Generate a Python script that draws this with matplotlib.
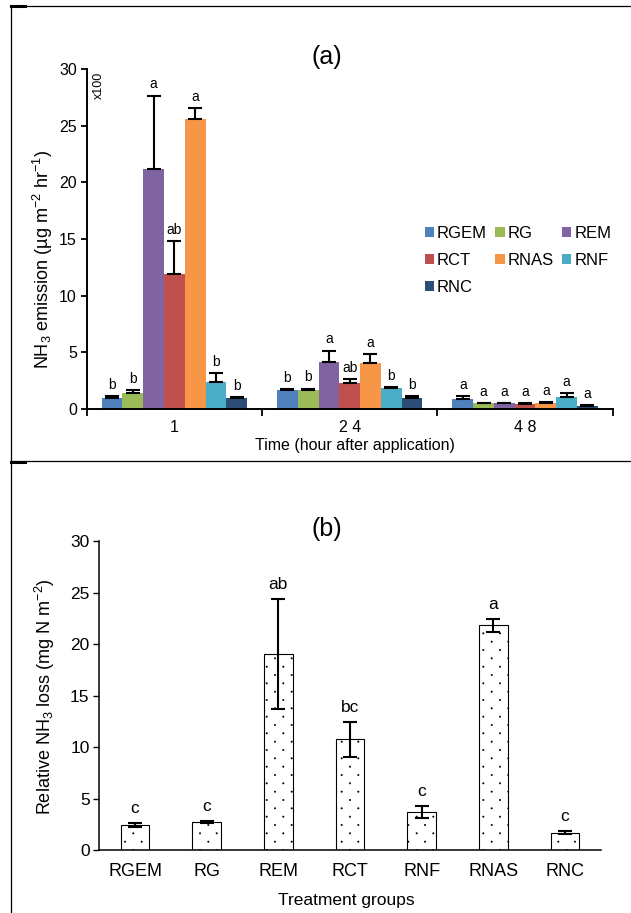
import matplotlib
matplotlib.use('Agg')
import matplotlib.pyplot as plt
import matplotlib.hatch as mhatch
from matplotlib.patches import Patch
from matplotlib.lines import Line2D
from matplotlib.path import Path
import numpy as np

plt.rcParams['font.family'] = ['Liberation Sans', 'DejaVu Sans']
plt.rcParams['mathtext.default'] = 'regular'
plt.rcParams['hatch.color'] = 'black'
plt.rcParams['hatch.linewidth'] = 0.4


class StaggeredDots(mhatch.Shapes):
    """'.' hatch: tiny dots, rows twice as close as the dots within a row."""
    filled = True
    size = 0.7

    def __init__(self, hatch, density):
        self.n_cols = hatch.count('.') * density
        self.n_rows = 2 * self.n_cols
        circle = Path.unit_circle()
        self.shape_vertices = circle.vertices
        self.shape_codes = circle.codes
        self.num_shapes = sum(len(self._cols(r)) for r in range(self.n_rows + 1)) if self.n_cols else 0
        self.num_vertices = self.num_shapes * len(self.shape_vertices)

    def _cols(self, row):
        step = 1.0 / self.n_cols
        if row % 2 == 0:
            return np.linspace(0, 1, self.n_cols + 1)
        return np.linspace(step / 2, 1 - step / 2, self.n_cols)

    def set_vertices_and_codes(self, vertices, codes):
        shape = self.shape_vertices * self.size / 100.0
        v_parts, c_parts = [], []
        for row in range(self.n_rows + 1):
            for col in self._cols(row):
                v_parts.append(shape + [col, row / self.n_rows])
                c_parts.append(self.shape_codes)
        np.concatenate(v_parts, out=vertices)
        np.concatenate(c_parts, out=codes)


mhatch._hatch_types = [StaggeredDots if t is mhatch.SmallFilledCircles else t
                       for t in mhatch._hatch_types]

# (a) NH3 emission rate (x100) per sampling time
times = ['1', '2 4', '4 8']
treatments = ['RGEM', 'RG', 'REM', 'RCT', 'RNAS', 'RNF', 'RNC']
colors = ['#4F81BD', '#9BBB59', '#8064A2', '#C0504D', '#F79646', '#4BACC6', '#2C4D75']
emission = {
    'RGEM': [0.93, 1.65, 0.85],
    'RG':   [1.44, 1.65, 0.50],
    'REM':  [21.18, 4.18, 0.50],
    'RCT':  [11.91, 2.32, 0.47],
    'RNAS': [25.59, 4.06, 0.53],
    'RNF':  [2.35, 1.88, 1.03],
    'RNC':  [0.93, 0.94, 0.26],
}
emission_err = {
    'RGEM': [0.20, 0.08, 0.30],
    'RG':   [0.20, 0.15, 0.05],
    'REM':  [6.47, 0.97, 0.05],
    'RCT':  [2.88, 0.30, 0.08],
    'RNAS': [0.94, 0.76, 0.06],
    'RNF':  [0.80, 0.08, 0.40],
    'RNC':  [0.10, 0.20, 0.05],
}
emission_letters = {
    'RGEM': ['b', 'b', 'a'],
    'RG':   ['b', 'b', 'a'],
    'REM':  ['a', 'a', 'a'],
    'RCT':  ['ab', 'ab', 'a'],
    'RNAS': ['a', 'a', 'a'],
    'RNF':  ['b', 'b', 'a'],
    'RNC':  ['b', 'b', 'a'],
}

# (b) cumulative relative NH3 loss
groups = ['RGEM', 'RG', 'REM', 'RCT', 'RNF', 'RNAS', 'RNC']
loss = [2.43, 2.75, 19.0, 10.74, 3.72, 21.8, 1.68]
loss_err = [0.23, 0.10, 5.34, 1.68, 0.58, 0.63, 0.15]
loss_letters = ['c', 'c', 'ab', 'bc', 'c', 'a', 'c']

W, H = 631, 913
fig = plt.figure(figsize=(W / 100, H / 100), dpi=100)


def px_box(x0, y0, x1, y1):
    return [x0 / W, 1 - y1 / H, (x1 - x0) / W, (y1 - y0) / H]


def frame_line(xs, ys, lw=0.9):
    fig.add_artist(Line2D([x / W for x in xs], [1 - y / H for y in ys],
                          transform=fig.transFigure, color='black', lw=lw))


# panel frames
frame_line([11, W], [6, 6])
frame_line([11, W], [461.5, 461.5])
frame_line([11, 11], [6, H])
frame_line([11, 25], [6.5, 6.5], lw=2.2)
frame_line([11, 25], [462, 462], lw=2.2)

# ---------- panel (a) ----------
ax1 = fig.add_axes(px_box(86.7, 69, 612.7, 409))
x = np.arange(len(times))
w = 0.1184
for i, name in enumerate(treatments):
    pos = x + (i - 3) * w
    vals = np.array(emission[name])
    err = np.array(emission_err[name])
    ax1.bar(pos, vals, w, color=colors[i], edgecolor='none', label=name, zorder=2)
    ax1.errorbar(pos, vals, yerr=[np.zeros_like(err), err], fmt='none', ecolor='black',
                 elinewidth=1.5, capsize=5, capthick=1.5, zorder=3)
    for p, v, e, t in zip(pos, vals, err, emission_letters[name]):
        ax1.annotate(t, (p, v + e), xytext=(0, 3), textcoords='offset points',
                     ha='center', va='bottom', fontsize=10)

ax1.set_xlim(-0.5, 2.5)
ax1.set_ylim(0, 30)
ax1.set_yticks(range(0, 31, 5))
ax1.set_xticks(x)
ax1.set_xticklabels(times)
ax1.set_xticks([-0.5, 0.5, 1.5, 2.5], minor=True)
ax1.tick_params(axis='x', which='major', length=0, pad=8, labelsize=11.5)
ax1.tick_params(axis='x', which='minor', length=5, width=1.3, direction='out')
ax1.tick_params(axis='y', length=4, width=1.3, direction='out', labelsize=11.5, pad=3)
for s in ['top', 'right']:
    ax1.spines[s].set_visible(False)
for s in ['left', 'bottom']:
    ax1.spines[s].set_linewidth(1.4)

ax1.set_ylabel('NH$_3$ emission (µg m$^{-2}$ hr$^{-1}$)', fontsize=13)
ax1.yaxis.label.set_va('center')
ax1.yaxis.set_label_coords(-0.083, 0.441)
ax1.set_xlabel('Time (hour after application)', fontsize=11.5)
ax1.xaxis.label.set_va('center')
ax1.xaxis.set_label_coords(0.51, -0.106)
ax1.text(0.023, 0.953, 'x100', transform=ax1.transAxes, rotation=90,
         ha='center', va='center', fontsize=9)
ax1.set_title('(a)', fontsize=18, pad=0)
ax1.title.set_position((0.457, 1.0))
ax1.title.set_va('center')
ax1.title.set_y(1.0 + 28 / 340)

handles = [Patch(facecolor=c, edgecolor='none') for c in colors]
order = [0, 3, 6, 1, 4, 2, 5]
leg = ax1.legend([handles[k] for k in order], [treatments[k] for k in order],
                 ncol=3, loc='upper left',
                 bbox_to_anchor=((424.5 - 86.7) / 526, (409 - 226) / 340),
                 frameon=False, fontsize=12, handlelength=0.55, handleheight=0.55,
                 handletextpad=0.2, columnspacing=0.5, labelspacing=0.72,
                 borderpad=0, borderaxespad=0)

# ---------- panel (b) ----------
ax2 = fig.add_axes(px_box(99.3, 541, 600.7, 850))
xb = np.arange(len(groups))
ax2.bar(xb, loss, 0.4, color='white', edgecolor='black', linewidth=0.8,
        hatch='.', zorder=2)
ax2.errorbar(xb, loss, yerr=loss_err, fmt='none', ecolor='black', elinewidth=1.5,
             capsize=5, capthick=1.5, zorder=3)
for p, v, e, t in zip(xb, loss, loss_err, loss_letters):
    ax2.annotate(t, (p, v + e), xytext=(0, 5), textcoords='offset points',
                 ha='center', va='bottom', fontsize=12.5)

ax2.set_xlim(-0.5, len(groups) - 0.5)
ax2.set_ylim(0, 30)
ax2.set_yticks(range(0, 31, 5))
ax2.set_xticks(xb)
ax2.set_xticklabels(groups)
ax2.tick_params(axis='x', length=0, pad=9, labelsize=13)
ax2.tick_params(axis='y', length=4, width=1.0, direction='out', labelsize=12.5, pad=3)
for s in ['top', 'right']:
    ax2.spines[s].set_visible(False)
for s in ['left', 'bottom']:
    ax2.spines[s].set_linewidth(1.1)

ax2.set_ylabel('Relative NH$_3$ loss (mg N m$^{-2}$)', fontsize=13)
ax2.yaxis.label.set_va('center')
ax2.yaxis.set_label_coords(-0.108, 0.495)
ax2.set_xlabel('Treatment groups', fontsize=12.5)
ax2.xaxis.label.set_va('center')
ax2.xaxis.set_label_coords(0.492, -0.162)
ax2.set_title('(b)', fontsize=18, pad=0)
ax2.title.set_position((0.454, 1.0))
ax2.title.set_va('center')
ax2.title.set_y(1.0 + 42 / 309)

fig.savefig('out.png', dpi=100)
